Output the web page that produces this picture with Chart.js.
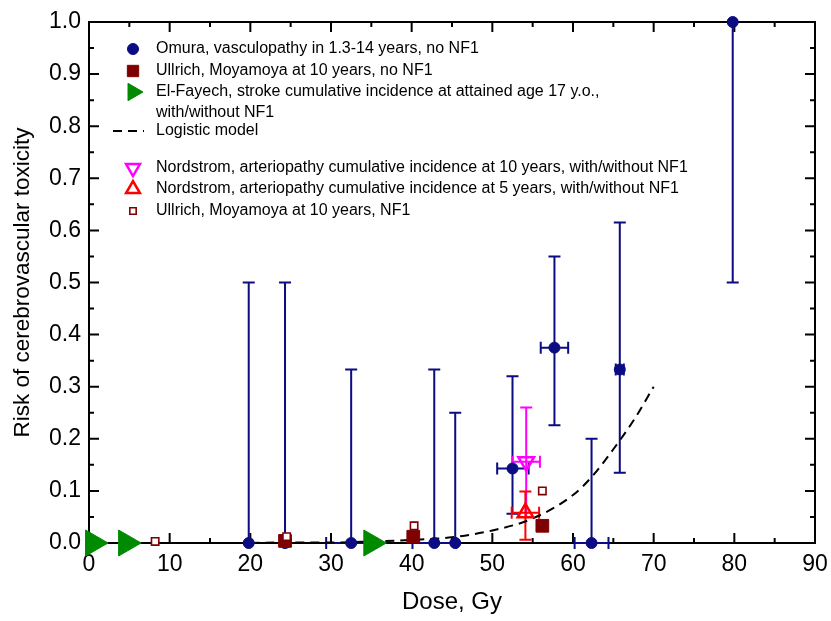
<!DOCTYPE html>
<html><head><meta charset="utf-8">
<script src="https://cdn.jsdelivr.net/npm/chart.js@4/dist/chart.umd.min.js"></script>
<style>html,body{margin:0;padding:0;background:#fff}#wrap{width:831px;height:621px;position:relative}</style>
</head><body><div id="wrap"><canvas id="c" width="831" height="621"></canvas></div>
<script>
// ---- data ----
const xTickValues = [0,10,20,30,40,50,60,70,80,90];
const yTickValues = [0,0.1,0.2,0.3,0.4,0.5,0.6,0.7,0.8,0.9,1.0];

const omuraDose     = [19.8, 24.3, 32.5, 42.8, 45.4, 52.5, 57.7, 62.3, 65.8, 79.8];
const omuraRisk     = [0, 0, 0, 0, 0, 0.143, 0.375, 0, 0.333, 1.0];
const omuraRiskLow  = [0, 0, 0, 0, 0, 0.056, 0.226, 0, 0.135, 0.5];
const omuraRiskHigh = [0.5, 0.5, 0.333, 0.333, 0.25, 0.32, 0.55, 0.2, 0.615, 1.0];
const omuraDoseLow  = [19.8, 24.3, 29.4, 40.1, 45.4, 50.6, 56.0, 60.2, 65.3, 79.8];
const omuraDoseHigh = [19.8, 24.3, 35.6, 45.5, 45.4, 54.5, 59.4, 64.4, 66.3, 79.8];

const ullrichDose = [24.3, 40.2, 56.2];
const ullrichRisk = [0.004, 0.012, 0.033];

const ullrichNF1Dose = [8.2, 24.5, 40.3, 56.2];
const ullrichNF1Risk = [0.003, 0.012, 0.033, 0.10];

const elFayechDose = [0.5, 4.6, 35.0];
const elFayechRisk = [0, 0, 0];

const nord10Dose = [54.2];
const nord10Risk = [0.156];
const nord10RiskLow = [0.05];
const nord10RiskHigh = [0.26];
const nord10DoseLow = [52.5];
const nord10DoseHigh = [55.9];

const nord5Dose = [54.1];
const nord5Risk = [0.058];
const nord5RiskLow = [0.006];
const nord5RiskHigh = [0.099];
const nord5DoseLow = [52.4];
const nord5DoseHigh = [55.8];

const logisticDose = [20, 25, 30, 35, 40, 45, 50, 55, 60, 62.5, 65, 67.5, 70];
const logisticRisk = [0.000, 0.001, 0.001, 0.003, 0.006, 0.011, 0.024, 0.047, 0.092, 0.13, 0.18, 0.235, 0.30];

const legendLabels = [
  ['Omura, vasculopathy in 1.3-14 years, no NF1'],
  ['Ullrich, Moyamoya at 10 years, no NF1'],
  ['El-Fayech, stroke cumulative incidence at attained age 17 y.o.,', 'with/without NF1'],
  ['Logistic model'],
  ['Nordstrom, arteriopathy cumulative incidence at 10 years, with/without NF1'],
  ['Nordstrom, arteriopathy cumulative incidence at 5 years, with/without NF1'],
  ['Ullrich, Moyamoya at 10 years, NF1']
];

// ---- helpers ----
const pts = (xs, ys) => xs.map((x, i) => ({x: x, y: ys[i]}));
const NAVY = '#0b0b82', DRED = '#7f0000', GREEN = '#008a00', MAG = '#ff00ff', RED = '#ff0000';
const FONT = '"Liberation Sans", Arial, sans-serif';

const datasets = [
  {label: legendLabels[0][0], data: pts(omuraDose, omuraRisk), pointStyle: 'circle', pointRadius: 5.5,
   backgroundColor: NAVY, borderColor: NAVY, borderWidth: 1, order: 5, clip: false,
   errY: [omuraRiskLow, omuraRiskHigh], errX: [omuraDoseLow, omuraDoseHigh], errColor: NAVY},
  {label: legendLabels[1][0], data: pts(ullrichDose, ullrichRisk), pointStyle: 'rect', pointRadius: 9,
   backgroundColor: DRED, borderColor: DRED, borderWidth: 1, order: 3, clip: false},
  {label: legendLabels[2][0], data: pts(elFayechDose, elFayechRisk), pointStyle: 'triangle', rotation: 90, pointRadius: 15,
   backgroundColor: GREEN, borderColor: GREEN, borderWidth: 1, order: 1, clip: false},
  {type: 'line', label: legendLabels[3][0], data: pts(logisticDose, logisticRisk), borderColor: '#000', borderWidth: 2,
   borderDash: [9, 6], pointRadius: 0, fill: false, cubicInterpolationMode: 'monotone', order: 10, clip: false},
  {label: legendLabels[4][0], data: pts(nord10Dose, nord10Risk), pointStyle: 'triangle', rotation: 180, pointRadius: 9,
   backgroundColor: 'rgba(0,0,0,0)', borderColor: MAG, borderWidth: 2.5, order: 4, clip: false,
   errY: [nord10RiskLow, nord10RiskHigh], errX: [nord10DoseLow, nord10DoseHigh], errColor: MAG},
  {label: legendLabels[5][0], data: pts(nord5Dose, nord5Risk), pointStyle: 'triangle', rotation: 0, pointRadius: 9,
   backgroundColor: 'rgba(0,0,0,0)', borderColor: RED, borderWidth: 2.5, order: 4, clip: false,
   errY: [nord5RiskLow, nord5RiskHigh], errX: [nord5DoseLow, nord5DoseHigh], errColor: RED},
  {label: legendLabels[6][0], data: pts(ullrichNF1Dose, ullrichNF1Risk), pointStyle: 'rect', pointRadius: 5.2,
   backgroundColor: '#fff', borderColor: DRED, borderWidth: 1.6, order: 2, clip: false}
];

// frame, inward ticks and error bars
const framePlugin = {
  id: 'frame',
  beforeDatasetsDraw(chart) {
    const {ctx, chartArea: a, scales: {x, y}} = chart;
    ctx.save();
    ctx.strokeStyle = '#000';
    ctx.lineWidth = 2;
    ctx.strokeRect(a.left, a.top, a.right - a.left, a.bottom - a.top);
    ctx.beginPath();
    for (let v = 0; v <= 90.001; v += 5) {
      const px = x.getPixelForValue(v);
      const len = (Math.round(v) % 10 === 0) ? 10 : 5;
      ctx.moveTo(px, a.bottom); ctx.lineTo(px, a.bottom - len);
      ctx.moveTo(px, a.top); ctx.lineTo(px, a.top + len);
    }
    for (let k = 0; k <= 20; k++) {
      const py = y.getPixelForValue(k * 0.05);
      const len = (k % 2 === 0) ? 10 : 5;
      ctx.moveTo(a.left, py); ctx.lineTo(a.left + len, py);
      ctx.moveTo(a.right, py); ctx.lineTo(a.right - len, py);
    }
    ctx.stroke();
    // error bars
    chart.data.datasets.forEach(ds => {
      if (!ds.errY && !ds.errX) return;
      ctx.strokeStyle = ds.errColor; ctx.lineWidth = 2;
      ds.data.forEach((p, i) => {
        const cx = x.getPixelForValue(p.x), cy = y.getPixelForValue(p.y);
        ctx.beginPath();
        if (ds.errY) {
          const lo = ds.errY[0][i], hi = ds.errY[1][i];
          const yl = y.getPixelForValue(lo), yh = y.getPixelForValue(hi);
          if (hi !== p.y) { ctx.moveTo(cx, cy); ctx.lineTo(cx, yh); ctx.moveTo(cx - 6, yh); ctx.lineTo(cx + 6, yh); }
          if (lo !== p.y) { ctx.moveTo(cx, cy); ctx.lineTo(cx, yl); ctx.moveTo(cx - 6, yl); ctx.lineTo(cx + 6, yl); }
        }
        if (ds.errX) {
          const lo = ds.errX[0][i], hi = ds.errX[1][i];
          const xl = x.getPixelForValue(lo), xh = x.getPixelForValue(hi);
          if (lo !== p.x) { ctx.moveTo(cx, cy); ctx.lineTo(xl, cy); ctx.moveTo(xl, cy - 6); ctx.lineTo(xl, cy + 6); }
          if (hi !== p.x) { ctx.moveTo(cx, cy); ctx.lineTo(xh, cy); ctx.moveTo(xh, cy - 6); ctx.lineTo(xh, cy + 6); }
        }
        ctx.stroke();
      });
    });
    ctx.restore();
  }
};

// in-plot legend
const legendPlugin = {
  id: 'inlegend',
  afterDraw(chart) {
    const ctx = chart.ctx;
    const rows = [49, 71, 92, 131, 168, 189, 211];
    const symX = 133, textX = 156;
    const ds = chart.data.datasets;
    ctx.save();
    ctx.font = '16px ' + FONT;
    ctx.fillStyle = '#000';
    ctx.textBaseline = 'middle';
    ctx.textAlign = 'left';
    legendLabels.forEach((lines, i) => {
      lines.forEach((t, j) => ctx.fillText(t, textX, rows[i] + j * 21));
    });
    const sizes = [5.5, 8, 10, 0, 8, 8, 4.5];
    ds.forEach((d, i) => {
      const yy = rows[i];
      if (d.type === 'line') {
        ctx.strokeStyle = '#000'; ctx.lineWidth = 2; ctx.setLineDash([9, 6]);
        ctx.beginPath(); ctx.moveTo(113, yy); ctx.lineTo(144, yy); ctx.stroke(); ctx.setLineDash([]);
        return;
      }
      ctx.fillStyle = d.backgroundColor; ctx.strokeStyle = d.borderColor; ctx.lineWidth = d.borderWidth;
      Chart.helpers.drawPoint(ctx, {pointStyle: d.pointStyle, rotation: d.rotation || 0, radius: sizes[i], borderWidth: d.borderWidth}, symX, yy);
    });
    ctx.restore();
  }
};

new Chart(document.getElementById('c'), {
  type: 'scatter',
  data: {datasets: datasets},
  options: {
    responsive: false, animation: false,
    layout: {padding: {top: 22, right: 13, left: 0, bottom: 0}},
    plugins: {legend: {display: false}, tooltip: {enabled: false}},
    scales: {
      x: {
        type: 'linear', min: 0, max: 90,
        afterBuildTicks: s => { s.ticks = xTickValues.map(v => ({value: v})); },
        afterFit: s => { s.height = 78; s.paddingLeft = 0; s.paddingRight = 0; },
        grid: {display: false, drawTicks: false}, border: {display: false},
        ticks: {color: '#000', font: {family: FONT, size: 23}, padding: 8, maxRotation: 0, callback: v => String(v)},
        title: {display: true, text: 'Dose, Gy', color: '#000', font: {family: FONT, size: 24}, padding: {top: 4, bottom: 4}}
      },
      y: {
        type: 'linear', min: 0, max: 1,
        afterBuildTicks: s => { s.ticks = yTickValues.map(v => ({value: v})); },
        afterFit: s => { s.width = 89; s.paddingTop = 0; s.paddingBottom = 0; },
        grid: {display: false, drawTicks: false}, border: {display: false},
        ticks: {color: '#000', font: {family: FONT, size: 23}, padding: 8, callback: v => Number(v).toFixed(1)},
        title: {display: true, text: 'Risk of cerebrovascular toxicity', color: '#000', font: {family: FONT, size: 22.5}, padding: {top: 9, bottom: 4}}
      }
    }
  },
  plugins: [framePlugin, legendPlugin]
});
</script>
</body></html>
